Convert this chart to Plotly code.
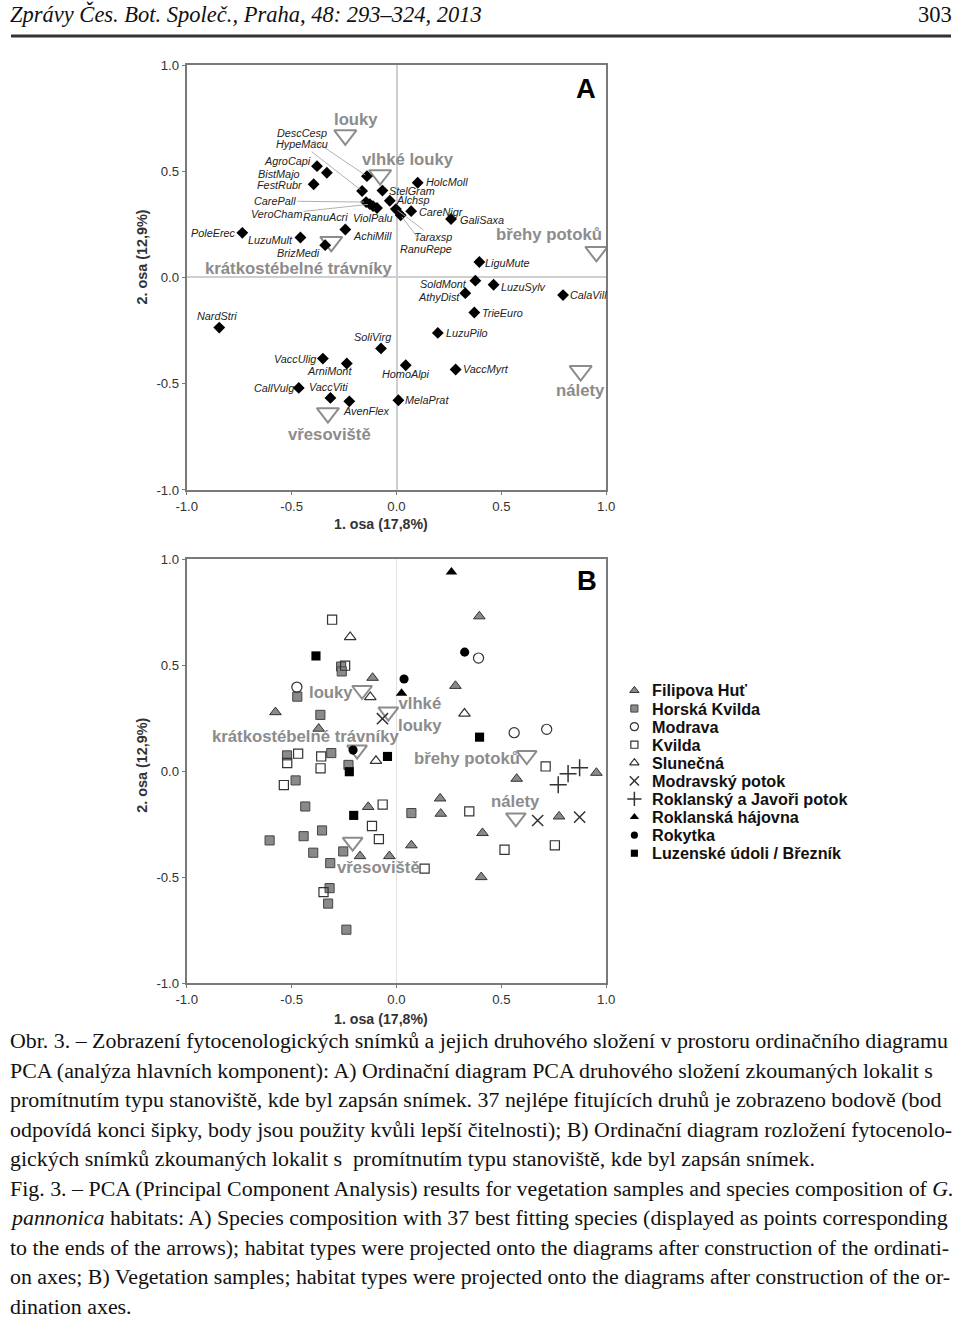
import plotly.graph_objects as go

# Observed screenshot mapping: shot = OFF + SC * figure-pixel.  Place everything in target
# (screenshot) pixels and convert back to figure pixels.
W, H = 960, 1318
OFF_X, SC_X = 7.9, 0.985
OFF_Y, SC_Y = 7.0, 0.988
SC = 0.9865  # visual scale for font sizes / pixel offsets

# ---------------- Panel A: species (PCA scores) ----------------
species = ["DescCesp", "HypeMacu", "AgroCapi", "BistMajo", "FestRubr", "CarePall", "VeroCham",
           "RanuAcri", "ViolPalu", "StelGram", "Alchsp", "CareNigr", "HolcMoll", "GaliSaxa",
           "Taraxsp", "RanuRepe", "AchiMill", "BrizMedi", "LuzuMult", "PoleErec", "LiguMute",
           "SoldMont", "LuzuSylv", "AthyDist", "CalaVill", "TrieEuro", "LuzuPilo", "SoliVirg",
           "HomoAlpi", "VaccMyrt", "MelaPrat", "NardStri", "VaccUlig", "ArniMont", "CallVulg",
           "VaccViti", "AvenFlex"]
sp_x = [-0.141, -0.164, -0.379, -0.332, -0.395, -0.145, -0.127, -0.112, -0.093, -0.067, -0.032,
        0.070, 0.101, 0.260, -0.003, 0.020, -0.244, -0.340, -0.458, -0.735, 0.395, 0.376, 0.463,
        0.328, 0.794, 0.371, 0.197, -0.074, 0.044, 0.282, 0.009, -0.845, -0.351, -0.237, -0.466,
        -0.315, -0.225]
sp_y = [0.477, 0.407, 0.524, 0.493, 0.439, 0.355, 0.345, 0.336, 0.327, 0.409, 0.361, 0.312,
        0.446, 0.275, 0.322, 0.293, 0.226, 0.152, 0.188, 0.210, 0.073, -0.015, -0.034, -0.074,
        -0.083, -0.165, -0.261, -0.334, -0.413, -0.433, -0.578, -0.236, -0.382, -0.405, -0.520,
        -0.567, -0.583]

# habitat types projected (A and B)
habitats = ["louky", "vlhké louky", "břehy potoků", "krátkostébelné trávníky", "vřesoviště", "nálety"]
hab_a_x = [-0.244, -0.078, 0.953, -0.311, -0.327, 0.878]
hab_a_y = [0.670, 0.482, 0.121, 0.168, -0.638, -0.440]
hab_b_x = [-0.164, -0.039, 0.621, -0.188, -0.209, 0.569]
hab_b_y = [0.381, 0.279, 0.074, 0.100, -0.335, -0.220]

# ---------------- Panel B: samples by locality ----------------
localities = ["Filipova Huť", "Horská Kvilda", "Modrava", "Kvilda", "Slunečná", "Modravský potok",
              "Roklanský a Javoři potok", "Roklanská hájovna", "Rokytka", "Luzenské údoli / Březník"]
fil_x = [0.395, -0.114, 0.281, -0.577, -0.371, 0.208, 0.573, 0.953, -0.135, 0.211, 0.071, -0.174,
         -0.034, 0.410, 0.404, 0.775]
fil_y = [0.730, 0.440, 0.402, 0.278, 0.200, -0.129, -0.036, -0.008, -0.169, -0.201, -0.350,
         -0.401, -0.401, -0.292, -0.500, -0.214]
hk_x = [-0.264, -0.261, -0.473, -0.363, -0.522, -0.311, -0.229, -0.481, -0.435, -0.605, -0.443,
        -0.355, -0.397, -0.254, -0.316, -0.319, -0.326, -0.239, 0.071]
hk_y = [0.493, 0.470, 0.351, 0.265, 0.074, 0.085, 0.029, -0.044, -0.167, -0.327, -0.307, -0.280,
        -0.385, -0.379, -0.434, -0.552, -0.625, -0.748, -0.198]
mod_x = [-0.475, 0.391, 0.561, 0.716]
mod_y = [0.396, 0.533, 0.181, 0.197]
kv_x = [-0.307, -0.245, -0.469, -0.521, -0.359, -0.362, -0.537, -0.066, -0.117, -0.084, -0.348,
        0.134, 0.347, 0.515, 0.755, 0.711]
kv_y = [0.714, 0.497, 0.082, 0.038, 0.069, 0.013, -0.066, -0.158, -0.259, -0.321, -0.571,
        -0.460, -0.190, -0.371, -0.350, 0.022]
slu_x = [-0.221, -0.125, 0.324, -0.098]
slu_y = [0.632, 0.349, 0.271, 0.048]
mp_x = [-0.067, 0.673, 0.873]
mp_y = [0.247, -0.233, -0.217]
rj_x = [0.818, 0.873, 0.771]
rj_y = [-0.012, 0.016, -0.064]
rh_x = [0.262, 0.024]
rh_y = [0.939, 0.367]
rok_x = [0.325, 0.036, -0.207]
rok_y = [0.561, 0.434, 0.099]
luz_x = [-0.384, 0.396, -0.043, -0.225, -0.204]
luz_y = [0.543, 0.160, 0.069, -0.003, -0.209]

tick_vals = [-1.0, -0.5, 0.0, 0.5, 1.0]
tick_text = ["-1.0", "-0.5", "0.0", "0.5", "1.0"]

header_left = "Zprávy Čes. Bot. Společ., Praha, 48: 293–324, 2013"
header_right = "303"
caption = [
    "Obr. 3. – Zobrazení fytocenologických snímků a jejich druhového složení v prostoru ordinačního diagramu",
    "PCA (analýza hlavních komponent): A) Ordinační diagram PCA druhového složení zkoumaných lokalit s",
    "promítnutím typu stanoviště, kde byl zapsán snímek. 37 nejlépe fitujících druhů je zobrazeno bodově (bod",
    "odpovídá konci šipky, body jsou použity kvůli lepší čitelnosti); B) Ordinační diagram rozložení fytocenolo-",
    "gických snímků zkoumaných lokalit s  promítnutím typu stanoviště, kde byl zapsán snímek.",
    "Fig. 3. – PCA (Principal Component Analysis) results for vegetation samples and species composition of <i>G.</i>",
    "<i>pannonica</i> habitats: A) Species composition with 37 best fitting species (displayed as points corresponding",
    "to the ends of the arrows); habitat types were projected onto the diagrams after construction of the ordinati-",
    "on axes; B) Vegetation samples; habitat types were projected onto the diagrams after construction of the or-",
    "dination axes.",
]

# ---------------- styling / placement ----------------
SANS = "Arial, Liberation Sans, sans-serif"
SERIF = "Liberation Serif, Times New Roman, serif"
HAB_COL = "#8c8c8c"

def pxx(v):
    """target screenshot x pixel -> paper fraction"""
    return ((v - OFF_X) / SC_X) / W

def pyy(v):
    """target screenshot y pixel -> paper fraction"""
    return 1 - ((v - OFF_Y) / SC_Y) / H

def fs(v):
    """visual size -> figure size"""
    return round(v / SC, 2)

# label placement for species (visual pixel offsets): ("t", dx, dy, anchor) or ("a", ax, ay)
sp_place = {
    "DescCesp": ("a", -64, -43), "HypeMacu": ("a", -59, -46), "CarePall": ("a", -90, -1),
    "VeroCham": ("a", -92, 10), "Taraxsp": ("a", 37, 28), "RanuRepe": ("a", 25, 33),
    "RanuAcri": ("t", -47, 11, "center"), "ViolPalu": ("t", -4, 10, "center"),
    "StelGram": ("t", 4, 0, "left"), "Alchsp": ("t", 4, -1, "left"), "CareNigr": ("t", 6, 1, "left"),
    "HolcMoll": ("t", 6, -1, "left"), "GaliSaxa": ("t", 7, 1, "left"), "LiguMute": ("t", 4, 1, "left"),
    "LuzuSylv": ("t", 5, 2, "left"), "CalaVill": ("t", 5, 0, "left"), "TrieEuro": ("t", 6, 0, "left"),
    "LuzuPilo": ("t", 6, 0, "left"), "VaccMyrt": ("t", 5, 0, "left"), "MelaPrat": ("t", 5, 0, "left"),
    "AchiMill": ("t", 6, 6, "left"), "AvenFlex": ("t", -8, 10, "left"),
    "SoldMont": ("t", -6, 3, "right"), "AthyDist": ("t", -3, 4, "right"), "VaccUlig": ("t", -5, 0, "right"),
    "CallVulg": ("t", -3, 0, "right"), "BrizMedi": ("t", -3, 8, "right"), "LuzuMult": ("t", -5, 2, "right"),
    "PoleErec": ("t", -4, 0, "right"), "AgroCapi": ("t", -4, -5, "right"), "BistMajo": ("t", -25, 1, "right"),
    "FestRubr": ("t", -10, 1, "right"),
    "SoliVirg": ("t", -8, -11, "center"), "HomoAlpi": ("t", 0, 9, "center"), "NardStri": ("t", -2, -11, "center"),
    "ArniMont": ("t", -17, 7, "center"), "VaccViti": ("t", -2, -11, "center"),
}
hab_a_place = [(11, -15), (27, -15), (-47, -17), (-32, 26), (2, 21), (0, 19)]
hab_b_place = [(-31, 2), (31, 3), (-59, 3), (-51, -13), (25, 25), (0, -16)]

loc_styles = [
    dict(symbol="triangle-up", size=fs(10), color="#8a8a8a", line=dict(color="#333", width=1)),
    dict(symbol="square", size=fs(9), color="#8a8a8a", line=dict(color="#444", width=1)),
    dict(symbol="circle-open", size=fs(10), color="#333", line=dict(width=1.2)),
    dict(symbol="square-open", size=fs(9), color="#333", line=dict(width=1.2)),
    dict(symbol="triangle-up-open", size=fs(10), color="#333", line=dict(width=1.2)),
    dict(symbol="x-thin-open", size=fs(11), color="#333", line=dict(width=1.5)),
    dict(symbol="cross-thin-open", size=fs(12), color="#333", line=dict(width=1.5)),
    dict(symbol="triangle-up", size=fs(10), color="#000", line=dict(color="#000", width=0)),
    dict(symbol="circle", size=fs(9), color="#000", line=dict(color="#000", width=0)),
    dict(symbol="square", size=fs(9), color="#000", line=dict(color="#000", width=0)),
]
loc_data = [(fil_x, fil_y), (hk_x, hk_y), (mod_x, mod_y), (kv_x, kv_y), (slu_x, slu_y),
            (mp_x, mp_y), (rj_x, rj_y), (rh_x, rh_y), (rok_x, rok_y), (luz_x, luz_y)]

fig = go.Figure()

# Panel A
fig.add_trace(go.Scatter(x=hab_a_x, y=hab_a_y, mode="markers", xaxis="x", yaxis="y",
                         marker=dict(symbol="triangle-down-open", size=fs(19), color=HAB_COL, line=dict(width=2)),
                         cliponaxis=False, showlegend=False, hoverinfo="skip"))
fig.add_trace(go.Scatter(x=sp_x, y=sp_y, mode="markers", xaxis="x", yaxis="y",
                         marker=dict(symbol="diamond", size=fs(9), color="black"),
                         cliponaxis=False, showlegend=False, text=species))

# Panel B
fig.add_trace(go.Scatter(x=hab_b_x, y=hab_b_y, mode="markers", xaxis="x2", yaxis="y2",
                         marker=dict(symbol="triangle-down-open", size=fs(17), color=HAB_COL, line=dict(width=2)),
                         cliponaxis=False, showlegend=False, hoverinfo="skip"))
for name, (lx, ly), st in zip(localities, loc_data, loc_styles):
    fig.add_trace(go.Scatter(x=lx, y=ly, mode="markers", xaxis="x2", yaxis="y2", name=name,
                             marker=st, cliponaxis=False, showlegend=False))

# manual legend (hidden axis x3/y3)
for i, (name, st) in enumerate(zip(localities, loc_styles)):
    s = dict(st)
    s["size"] = max(7, st["size"] - 2)
    fig.add_trace(go.Scatter(x=[0.5], y=[i], mode="markers", xaxis="x3", yaxis="y3",
                             marker=s, cliponaxis=False, showlegend=False, hoverinfo="skip"))

ann = []
SP_FONT = dict(family=SANS, size=fs(10.7), color="#222")
# species labels
for name, x, y in zip(species, sp_x, sp_y):
    p = sp_place[name]
    if p[0] == "a":
        ann.append(dict(x=x, y=y, xref="x", yref="y", text=f"<i>{name}</i>", showarrow=True,
                        ax=fs(p[1]), ay=fs(p[2]), arrowhead=0, arrowwidth=0.9, arrowcolor="#a8a8a8",
                        standoff=2, font=SP_FONT))
    else:
        ann.append(dict(x=x, y=y, xref="x", yref="y", text=f"<i>{name}</i>", showarrow=False,
                        xanchor=p[3], yanchor="middle", xshift=fs(p[1]), yshift=-fs(p[2]), font=SP_FONT))
# habitat labels
HAB_FONT = dict(family=SANS, size=fs(16.5), color=HAB_COL)
for name, x, y, (dx, dy) in zip(habitats, hab_a_x, hab_a_y, hab_a_place):
    ann.append(dict(x=x, y=y, xref="x", yref="y", text=f"<b>{name}</b>", showarrow=False,
                    xanchor="center", yanchor="middle", xshift=fs(dx), yshift=-fs(dy), font=HAB_FONT))
for name, x, y, (dx, dy) in zip(habitats, hab_b_x, hab_b_y, hab_b_place):
    t = name.replace(" ", "<br>") if name == "vlhké louky" else name
    ann.append(dict(x=x, y=y, xref="x2", yref="y2", text=f"<b>{t}</b>", showarrow=False,
                    xanchor="center", yanchor="middle", xshift=fs(dx), yshift=-fs(dy), font=HAB_FONT))
# legend text
for i, name in enumerate(localities):
    ann.append(dict(x=pxx(651), y=i, xref="paper", yref="y3", text=f"<b>{name}</b>", showarrow=False,
                    xanchor="left", yanchor="middle", font=dict(family=SANS, size=fs(16), color="#111")))

def paper_text(x, y, text, size, family=SANS, color="#111", xanchor="center", angle=0):
    return dict(x=pxx(x), y=pyy(y), xref="paper", yref="paper", text=text, showarrow=False,
                xanchor=xanchor, yanchor="middle", textangle=angle,
                font=dict(family=family, size=fs(size), color=color))

# panel letters
ann.append(paper_text(586, 88, "<b>A</b>", 27, color="#000"))
ann.append(paper_text(587, 580, "<b>B</b>", 27, color="#000"))
# axis titles
for yc, xc_t in [(257, 524), (765, 1018)]:
    ann.append(paper_text(140, yc, "<b>2. osa (12,9%)</b>", 14.2, color="#333", angle=-90))
    ann.append(paper_text(380, xc_t, "<b>1. osa (17,8%)</b>", 14.0, color="#333"))
# header
ann.append(paper_text(5, 14, f"<i>{header_left}</i>", 22.2, family=SERIF, xanchor="left"))
ann.append(paper_text(957, 14, header_right, 22.2, family=SERIF, xanchor="right"))
# caption
for i, line in enumerate(caption):
    ann.append(paper_text(5, 1040 + 29.5 * i, line, 21.6, family=SERIF, xanchor="left"))

axis_common = dict(range=[-1, 1], tickvals=tick_vals, ticktext=tick_text, showgrid=False,
                   showline=True, mirror=True, linecolor="#7a7a7a", linewidth=2,
                   ticks="outside", ticklen=3, tickcolor="#7a7a7a",
                   tickfont=dict(family=SANS, size=fs(13), color="#333"), fixedrange=True)

x_dom = [pxx(184.7), pxx(606.7)]
fig.update_layout(
    width=W, height=H, margin=dict(l=0, r=0, t=0, b=0),
    paper_bgcolor="white", plot_bgcolor="white",
    xaxis=dict(domain=x_dom, anchor="y", zeroline=True, zerolinecolor="#cfcfcf", zerolinewidth=1.5, **axis_common),
    yaxis=dict(domain=[pyy(489.6), pyy(65)], anchor="x", zeroline=True, zerolinecolor="#cfcfcf",
               zerolinewidth=1.5, **axis_common),
    xaxis2=dict(domain=x_dom, anchor="y2", zeroline=True, zerolinecolor="#e2e2e2", zerolinewidth=1.2, **axis_common),
    yaxis2=dict(domain=[pyy(982.5), pyy(558.7)], anchor="x2", zeroline=False, **axis_common),
    xaxis3=dict(domain=[pxx(625), pxx(645)], range=[0, 1], visible=False, anchor="y3", fixedrange=True),
    yaxis3=dict(domain=[pyy(852.7), pyy(690)], range=[9, 0], visible=False, anchor="x3", fixedrange=True),
    annotations=ann,
    shapes=[dict(type="line", xref="paper", yref="paper", x0=0, x1=1, y0=pyy(36), y1=pyy(36),
                 line=dict(color="#333", width=3))],
    showlegend=False,
)

fig.write_html("out.html")
